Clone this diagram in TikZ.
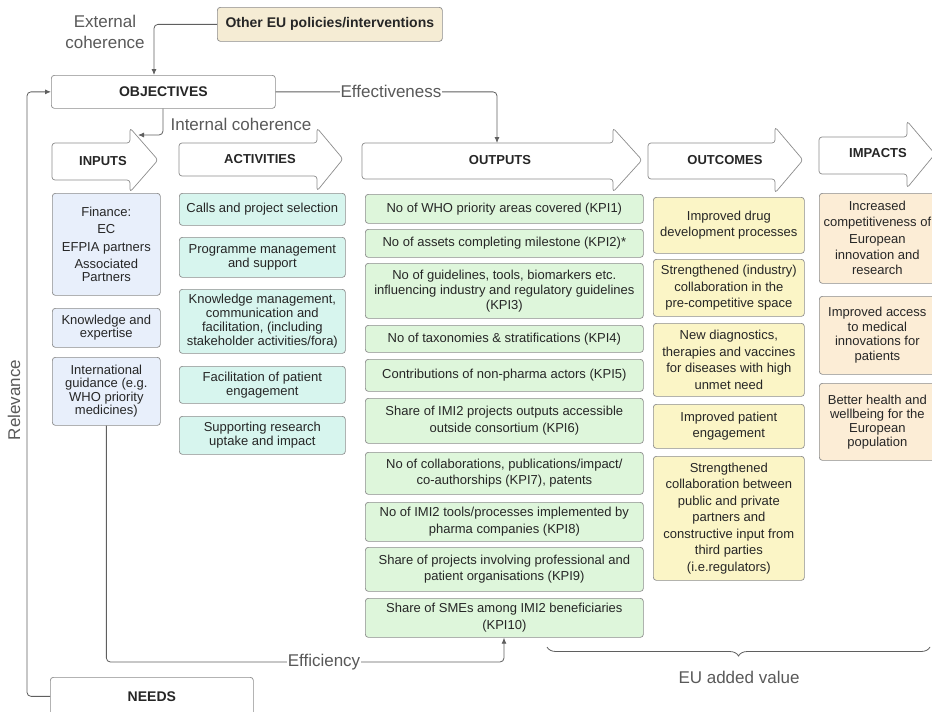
\documentclass[tikz,border=0pt]{standalone}
\usepackage{fontspec}
\setmainfont{Liberation Sans}
\usetikzlibrary{arrows.meta, decorations.pathreplacing, calc}

\definecolor{bordergray}{HTML}{8C8C8C}
\definecolor{linegray}{HTML}{5F5F5F}
\definecolor{textdark}{HTML}{262626}
\definecolor{labelgray}{HTML}{595959}
\definecolor{inblue}{HTML}{E8EFFB}
\definecolor{actmint}{HTML}{D7F5EE}
\definecolor{outgreen}{HTML}{DEF6DB}
\definecolor{outyellow}{HTML}{FBF5C6}
\definecolor{impeach}{HTML}{FCEDD6}
\definecolor{eubeige}{HTML}{F5ECD4}

\begin{document}
\begin{tikzpicture}[x=1pt, y=-1pt,
  box/.style={draw=bordergray, line width=0.7pt, rounded corners=3pt, align=center,
    inner sep=1pt, anchor=north west, text=textdark, font=\fontsize{13}{15}\selectfont},
  hdr/.style={font=\bfseries\fontsize{13}{15}\selectfont, text=textdark},
  bighdr/.style={font=\bfseries\fontsize{14}{16}\selectfont},
  blk/.style={draw=bordergray, line width=0.7pt, rounded corners=3pt, fill=white},
  conn/.style={draw=linegray, line width=0.8pt, rounded corners=4pt, -{Latex[length=6pt,width=5pt]}},
  lbl/.style={text=labelgray, font=\fontsize{17}{21}\selectfont, inner sep=1pt},
  tight/.style={font=\fontsize{13}{13.5}\selectfont},
  mid/.style={font=\fontsize{13}{14}\selectfont},
  loose/.style={font=\fontsize{13}{16.5}\selectfont}
]
\useasboundingbox (0,0) rectangle (932,712);
\clip (0,0) rectangle (932,712);

% ---------- stage arrows ----------
\draw[blk] (52,143) -- (130,143) -- (130,128) -- (158,160) -- (130,192) -- (130,180) -- (52,180) -- cycle;
\draw[blk] (179,143) -- (317,143) -- (317,128) -- (343,159) -- (317,191) -- (317,176) -- (179,176) -- cycle;
\draw[blk] (362,143) -- (613,143) -- (613,128) -- (642,160) -- (613,192) -- (613,179) -- (362,179) -- cycle;
\draw[blk] (648,143) -- (775,143) -- (775,127) -- (803,160) -- (775,193) -- (775,179) -- (648,179) -- cycle;
\draw[blk] (819,137) -- (907,137) -- (907,121) -- (935,154) -- (907,188) -- (907,174) -- (819,174) -- cycle;

\node[hdr] (inputs) at (103,161) {INPUTS};
\node[hdr] (activities) at (260,159) {ACTIVITIES};
\node[hdr] (outputs) at (500,160) {OUTPUTS};
\node[hdr] (outcomes) at (725,160) {OUTCOMES};
\node[hdr] (impacts) at (878,153) {IMPACTS};

% ---------- top boxes ----------
\node[box, bighdr, fill=eubeige, minimum width=225pt, minimum height=34pt] (othereu) at (217,7) {Other EU policies/interventions};
\node[box, bighdr, fill=white, minimum width=224pt, minimum height=33pt] (objectives) at (51,75) {OBJECTIVES};
\node[box, bighdr, fill=white, minimum width=203pt, minimum height=38pt] (needs) at (50,677) {NEEDS};

% ---------- inputs ----------
\node[box, tight, fill=inblue, minimum width=108pt, minimum height=102pt] (fin) at (52,193)
  {Finance:\\[4pt]EC\\[4pt]EFPIA partners\\[4pt]Associated\\Partners};
\node[box, tight, fill=inblue, minimum width=108pt, minimum height=39pt] (know) at (52,308)
  {Knowledge and\\expertise};
\node[box, tight, fill=inblue, minimum width=108pt, minimum height=68pt] (intl) at (52,357)
  {International\\guidance (e.g.\\WHO priority\\medicines)};

% ---------- activities ----------
\node[box, mid, fill=actmint, minimum width=166pt, minimum height=32pt] (ac1) at (179,193)
  {Calls and project selection};
\node[box, mid, fill=actmint, minimum width=166pt, minimum height=40pt] (ac2) at (179,237)
  {Programme management\\and support};
\node[box, mid, fill=actmint, minimum width=166pt, minimum height=64pt] (ac3) at (179,289)
  {Knowledge management,\\communication and\\facilitation, (including\\stakeholder activities/fora)};
\node[box, mid, fill=actmint, minimum width=166pt, minimum height=37pt] (ac4) at (179,366)
  {Facilitation of patient\\engagement};
\node[box, mid, fill=actmint, minimum width=166pt, minimum height=38pt] (ac5) at (179,416)
  {Supporting research\\uptake and impact};

% ---------- outputs ----------
\node[box, fill=outgreen, minimum width=278pt, minimum height=29pt] (kpi1) at (365,194)
  {No of WHO priority areas covered (KPI1)};
\node[box, fill=outgreen, minimum width=278pt, minimum height=28pt] (kpi2) at (365,229)
  {No of assets completing milestone (KPI2)*};
\node[box, fill=outgreen, minimum width=278pt, minimum height=55pt] (kpi3) at (365,263)
  {No of guidelines, tools, biomarkers etc.\\influencing industry and regulatory guidelines\\(KPI3)};
\node[box, fill=outgreen, minimum width=278pt, minimum height=27pt] (kpi4) at (365,325)
  {No of taxonomies \& stratifications (KPI4)};
\node[box, fill=outgreen, minimum width=278pt, minimum height=32pt] (kpi5) at (365,359)
  {Contributions of non-pharma actors (KPI5)};
\node[box, loose, fill=outgreen, minimum width=278pt, minimum height=45pt] (kpi6) at (365,398)
  {Share of IMI2 projects outputs accessible\\outside consortium (KPI6)};
\node[box, loose, fill=outgreen, minimum width=278pt, minimum height=42pt] (kpi7) at (365,452)
  {No of collaborations, publications/impact/\\co-authorships (KPI7), patents};
\node[box, loose, fill=outgreen, minimum width=278pt, minimum height=39pt] (kpi8) at (365,502)
  {No of IMI2 tools/processes implemented by\\pharma companies (KPI8)};
\node[box, loose, fill=outgreen, minimum width=278pt, minimum height=44pt] (kpi9) at (365,547)
  {Share of projects involving professional and\\patient organisations (KPI9)};
\node[box, loose, fill=outgreen, minimum width=278pt, minimum height=39pt] (kpi10) at (365,598)
  {Share of SMEs among IMI2 beneficiaries\\(KPI10)};

% ---------- outcomes ----------
\node[box, loose, fill=outyellow, minimum width=151pt, minimum height=56pt] (oc1) at (653,197)
  {Improved drug\\development processes};
\node[box, loose, fill=outyellow, minimum width=151pt, minimum height=57pt] (oc2) at (653,259)
  {Strengthened (industry)\\collaboration in the\\pre-competitive space};
\node[box, loose, fill=outyellow, minimum width=151pt, minimum height=73pt] (oc3) at (653,323)
  {New diagnostics,\\therapies and vaccines\\for diseases with high\\unmet need};
\node[box, loose, fill=outyellow, minimum width=151pt, minimum height=44pt] (oc4) at (653,404)
  {Improved patient\\engagement};
\node[box, loose, fill=outyellow, minimum width=151pt, minimum height=124pt] (oc5) at (653,456)
  {Strengthened\\collaboration between\\public and private\\partners and\\constructive input from\\third parties\\(i.e.regulators)};

% ---------- impacts ----------
\node[box, font=\fontsize{13}{16}\selectfont, fill=impeach, minimum width=116pt, minimum height=90pt] (im1) at (819,193)
  {Increased\\competitiveness of\\European\\innovation and\\research};
\node[box, font=\fontsize{13}{14.5}\selectfont, fill=impeach, minimum width=116pt, minimum height=78pt] (im2) at (819,296)
  {Improved access\\to medical\\innovations for\\patients};
\node[box, font=\fontsize{13}{14}\selectfont, fill=impeach, minimum width=116pt, minimum height=77pt] (im3) at (819,383)
  {Better health and\\wellbeing for the\\European\\population};

% ---------- connectors ----------
\coordinate (extin) at (154,75);
\draw[conn] (othereu.west) -| (extin);
\node[lbl, align=center] (ecl) at (105,32) {External\\coherence};

\coordinate (outtop) at (497,143);
\draw[conn] (objectives.east) -| (outtop);
\node[lbl, fill=white] (effl) at (391,91) {Effectiveness};

\coordinate (icend) at (138,135);
\draw[conn] ([xshift=112pt]objectives.south west) |- (icend);
\node[lbl] (icl) at (241,124) {Internal coherence};

\draw[conn] (needs.west) -- ++(-23,0) |- (objectives.west);
\node[lbl, rotate=90] (rell) at (14,400) {Relevance};

\coordinate (effcorner) at (504,662);
\draw[conn] (intl.south) |- (effcorner) -- (kpi10.south -| effcorner);
\node[lbl, fill=white] (efl) at (324,662) {Efficiency};

\draw[linegray, line width=0.8pt, decorate, decoration={brace, amplitude=9pt, mirror}] (547,647) -- (930,647);
\node[lbl] (eul) at (739,677) {EU added value};
\end{tikzpicture}
\end{document}
